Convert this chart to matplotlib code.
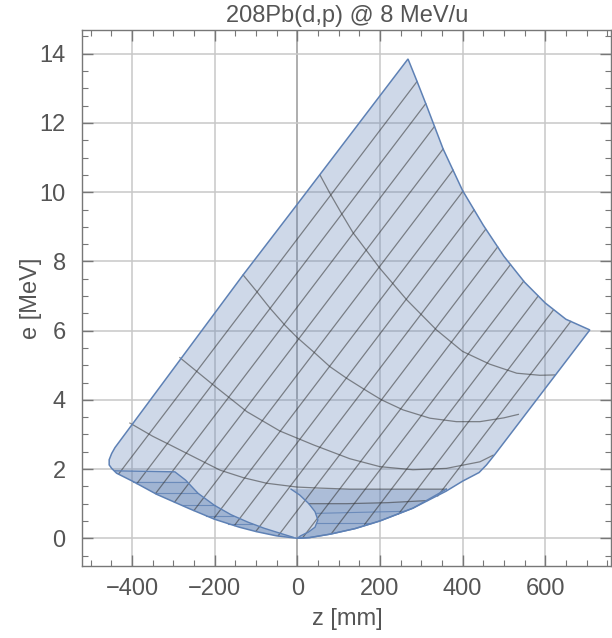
import matplotlib.pyplot as plt
from matplotlib.ticker import MultipleLocator

plt.rcParams['font.family'] = ['Liberation Sans', 'DejaVu Sans']

# outline of the kinematic region (z in mm, e in MeV)
edge_z = [-449, -455, -455, -449, -441, -131, 0, 268,
          290, 313, 353, 400, 450, 500, 550, 600, 650, 708,
          480, 458, 440, 400, 360, 280, 200, 140, 80, 30, 0,
          -50, -98, -140, -200, -260, -340, -397, -437]
edge_e = [2.02, 2.12, 2.27, 2.45, 2.62, 7.61, 9.65, 13.85,
          13.2, 12.5, 11.25, 10.05, 9.05, 8.15, 7.4, 6.8, 6.33, 6.02,
          2.45, 2.12, 1.9, 1.65, 1.36, 0.87, 0.5, 0.28, 0.12, 0.02, 0.0,
          0.07, 0.19, 0.32, 0.55, 0.85, 1.27, 1.64, 1.88]

# folded (double covered) part on the left
fold_l_z = [-441, -296, -270, -240, -200, -160, -120, -80, -40, -10,
            -50, -98, -140, -200, -260, -340, -397, -437]
fold_l_e = [1.95, 1.92, 1.68, 1.30, 0.95, 0.68, 0.47, 0.29, 0.14, 0.03,
            0.07, 0.19, 0.32, 0.55, 0.85, 1.27, 1.64, 1.88]
# third layer inside the left fold
fold_l2_z = [-397, -267, -240, -200, -160, -120, -80, -40, -10,
             -50, -98, -140, -200, -260, -340]
fold_l2_e = [1.64, 1.64, 1.30, 0.95, 0.68, 0.47, 0.29, 0.14, 0.03,
             0.07, 0.19, 0.32, 0.55, 0.85, 1.27]

# folded part on the right
fold_r_z = [-15, 6, 28, 43, 50, 43, 27, 8, 0, 30, 80, 140, 200, 280, 361]
fold_r_e = [1.42, 1.25, 1.0, 0.77, 0.53, 0.32, 0.18, 0.07, 0.0, 0.02, 0.12,
            0.28, 0.5, 0.87, 1.42]
# third layer inside the right fold
fold_r2_z = [28, 120, 220, 315, 280, 200, 140, 80, 30, 0, 8, 27, 43, 50, 43]
fold_r2_e = [1.0, 1.0, 1.03, 1.09, 0.87, 0.5, 0.28, 0.12, 0.02, 0.0, 0.07,
             0.18, 0.32, 0.53, 0.77]

# nearly flat lines inside the folds
lay_z0 = [-397, -345, -279, -220, -168, 47, 47]
lay_z1 = [-267, -240, -200, -156, -110, 260, 180]
lay_e0 = [1.64, 1.30, 0.95, 0.65, 0.42, 0.72, 0.45]
lay_e1 = [1.64, 1.30, 0.95, 0.65, 0.42, 0.78, 0.45]

# mesh lines of constant excitation energy (straight): lower and upper ends
ex_z_lo = [-432, -388, -343, -297, -250, -202, -152, -100, -46, 14, 83, 163, 245, 340]
ex_e_lo = [1.86, 1.58, 1.29, 1.04, 0.80, 0.57, 0.37, 0.20, 0.075, 0.03, 0.14, 0.40, 0.70, 1.22]
ex_z_hi = [290, 311, 332, 353, 377, 401, 428, 456, 485, 516, 548, 583, 620, 662]
ex_e_hi = [13.2, 12.56, 11.9, 11.25, 10.64, 10.03, 9.49, 8.93, 8.42, 7.91, 7.43, 7.0, 6.6, 6.27]

# mesh lines of constant cm angle (curved)
th1_z = [55, 79, 107, 135, 200, 265, 337, 400, 466, 531, 587, 623]
th1_e = [10.5, 9.97, 9.39, 8.83, 7.8, 6.89, 6.02, 5.4, 5.03, 4.77, 4.71, 4.72]
th2_z = [-131, -98, -66, -30, 0, 43, 79, 120, 164, 204, 256, 321, 385, 442, 500, 535]
th2_e = [7.61, 7.13, 6.65, 6.16, 5.8, 5.35, 4.96, 4.62, 4.29, 4.0, 3.71, 3.47, 3.37, 3.37, 3.48, 3.58]
th3_z = [-284, -203, -122, -42, 39, 127, 200, 280, 361, 442, 474]
th3_e = [5.22, 4.43, 3.66, 3.1, 2.7, 2.3, 2.07, 1.98, 2.02, 2.21, 2.4]
th4_z = [-405, -350, -308, -260, -187, -130, -74, 0, 55, 127, 250, 361]
th4_e = [3.33, 2.95, 2.70, 2.41, 1.97, 1.75, 1.59, 1.48, 1.45, 1.42, 1.42, 1.42]
th5_z = [28, 120, 220, 315]
th5_e = [1.0, 1.0, 1.03, 1.09]

blue = (0.368, 0.507, 0.710)
mesh = dict(color='#333333', alpha=0.55, lw=0.9)

fig = plt.figure(figsize=(6.12, 6.38), dpi=100)
ax = fig.add_axes([0.1345, 0.1129, 0.8644, 0.8397])

ax.grid(True, color='#c8c8c8', lw=1.1, zorder=0)
ax.axvline(0, color='#555555', lw=1.3, zorder=1)

ax.fill(edge_z, edge_e, facecolor=blue, alpha=0.3, edgecolor='none', zorder=2)
ax.fill(fold_l_z, fold_l_e, facecolor=blue, alpha=0.3, edgecolor='none', zorder=2)
ax.fill(fold_r_z, fold_r_e, facecolor=blue, alpha=0.3, edgecolor='none', zorder=2)
ax.fill(fold_l2_z, fold_l2_e, facecolor=blue, alpha=0.15, edgecolor='none', zorder=2)
ax.fill(fold_r2_z, fold_r2_e, facecolor=blue, alpha=0.15, edgecolor='none', zorder=2)
ax.fill(edge_z, edge_e, facecolor='none', edgecolor=blue, lw=1.1, zorder=4)
ax.plot(fold_l_z[:10], fold_l_e[:10], color=blue, lw=1.0, zorder=4)
ax.plot(fold_r_z, fold_r_e, color=blue, lw=1.0, zorder=4)

for i in range(len(lay_z0)):
    ax.plot([lay_z0[i], lay_z1[i]], [lay_e0[i], lay_e1[i]], color=blue,
            lw=0.8, alpha=0.8, zorder=3)
for i in range(len(ex_z_lo)):
    ax.plot([ex_z_lo[i], ex_z_hi[i]], [ex_e_lo[i], ex_e_hi[i]], zorder=3, **mesh)
for zz, ee in [(th1_z, th1_e), (th2_z, th2_e), (th3_z, th3_e),
               (th4_z, th4_e), (th5_z, th5_e)]:
    ax.plot(zz, ee, zorder=3, **mesh)

ax.set_xlim(-520, 760)
ax.set_ylim(-0.8, 14.68)
ax.xaxis.set_major_locator(MultipleLocator(200))
ax.xaxis.set_minor_locator(MultipleLocator(50))
ax.yaxis.set_major_locator(MultipleLocator(2))
ax.yaxis.set_minor_locator(MultipleLocator(0.5))
ax.tick_params(which='both', direction='in', top=True, right=True,
               color='#777777', labelcolor='#555555', labelsize=17)
ax.tick_params(which='major', length=8, width=1.0)
ax.tick_params(which='minor', length=4, width=0.8)
ax.tick_params(axis='x', pad=9)
ax.tick_params(axis='y', pad=12)
for s in ax.spines.values():
    s.set_color('#777777')
    s.set_linewidth(1.0)

ax.set_title('208Pb(d,p) @ 8 MeV/u', fontsize=17, color='#555555', pad=6)
ax.set_xlabel('z [mm]', fontsize=17, color='#555555')
ax.set_ylabel('e [MeV]', fontsize=17, color='#555555')
ax.xaxis.set_label_coords(0.5, -0.078)
ax.yaxis.set_label_coords(-0.076, 0.5)

fig.savefig('out.png', dpi=100)
